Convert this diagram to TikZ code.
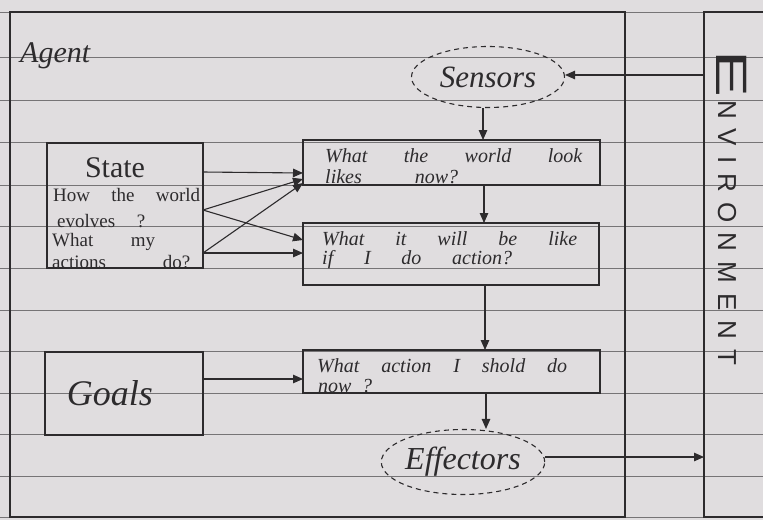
\documentclass[tikz,border=0pt]{standalone}
\usepackage{fontspec}
\usepackage{graphicx}
\setmainfont{Liberation Serif}
\newfontfamily\envfont{Liberation Sans}
\usetikzlibrary{arrows.meta,shapes.geometric}
\definecolor{paper}{RGB}{224,221,223}
\definecolor{ink}{RGB}{45,43,45}
\definecolor{rulecol}{RGB}{118,116,118}
\begin{document}
\begin{tikzpicture}[x=1pt,y=-1pt,
  inkline/.style={draw=ink, line width=1.3pt},
  boxnode/.style={draw=ink, line width=1.3pt, rectangle, inner sep=0pt, outer sep=0pt, anchor=north west},
  cloud/.style={draw=ink, line width=1.1pt, ellipse, dash pattern=on 5pt off 4pt, inner sep=0pt, text=ink},
  arr/.style={draw=ink, line width=1.1pt, -{Triangle[length=10pt,width=8.5pt]}},
  hand/.style={text=ink, inner sep=0pt, anchor=base west, font=\fontsize{20}{22}\selectfont\itshape},
  print/.style={text=ink, inner sep=0pt, anchor=base west, font=\fontsize{19}{21}\selectfont},
  ruled/.style={draw=rulecol, line width=0.7pt}
]
\fill[paper] (0,0) rectangle (763,520);
\useasboundingbox (0,0) rectangle (763,520);
% ruled paper
\foreach \yy in {12,57,100,142,185,226,268,310,351,393,434,476,517}
  \draw[ruled] (0,\yy) -- (763,\yy);

% agent and environment frames
\node[boxnode, minimum width=615pt, minimum height=505pt] (agent) at (10,12) {};
\node[inner sep=0pt, outer sep=0pt, minimum width=59pt, minimum height=505pt, anchor=north west] (env) at (704,12) {};
\draw[inkline] (env.north east) -- (env.north west) -- (env.south west) -- (env.south east);

\node[text=ink, inner sep=0pt, anchor=base west, font=\fontsize{30}{32}\selectfont\itshape] (agentlbl) at (20,62) {Agent};

% environment label
\node[rotate=-90, anchor=base west, text=ink, inner sep=0pt] (envE) at (716,50)
  {\envfont\fontsize{44}{44}\selectfont\scalebox{1.6}[1]{E}};
\node[rotate=-90, anchor=base west, text=ink, inner sep=0pt] (envRest) at (718,100)
  {\envfont\fontsize{26}{26}\selectfont\makebox[265pt][s]{N V I R O N M E N T}};

% sensors / effectors
\node[cloud, minimum width=153pt, minimum height=61pt, font=\fontsize{31}{33}\selectfont\itshape] (sensors) at (488,77) {Sensors};
\node[cloud, minimum width=157pt, minimum height=65pt, font=\fontsize{32}{34}\selectfont\itshape] (effectors) at (463,462) {Effectors};

% boxes
\node[boxnode, minimum width=297pt, minimum height=45pt] (look) at (303,140) {};
\node[boxnode, minimum width=296pt, minimum height=62pt] (will) at (303,223) {};
\node[boxnode, minimum width=297pt, minimum height=43pt] (act) at (303,350) {};
\node[boxnode, minimum width=156pt, minimum height=125pt] (state) at (47,143) {};
\node[boxnode, minimum width=158pt, minimum height=83pt] (goals) at (45,352) {};

% box texts
\node[hand] (look1) at (325,162) {\makebox[257pt][s]{What the world look}};
\node[hand] (look2) at (325,183) {\makebox[133pt][s]{likes now?}};
\node[hand] (will1) at (322,245) {\makebox[255pt][s]{What it will be like}};
\node[hand] (will2) at (322,264) {\makebox[190pt][s]{if I do action?}};
\node[hand] (act1) at (317,372) {\makebox[250pt][s]{What action I shold do}};
\node[hand] (act2) at (318,392) {\makebox[54pt][s]{now ?}};

\node[text=ink, inner sep=0pt, anchor=base, font=\fontsize{30}{32}\selectfont] (statelbl) at (115,177) {State};
\node[print] (st1) at (53,201) {\makebox[147pt][s]{How the world}};
\node[print] (st2) at (57,227) {\makebox[88pt][s]{evolves ?}};
\node[print] (st3) at (52,246) {\makebox[103pt][s]{What my}};
\node[print] (st4) at (52,268) {\makebox[138pt][s]{actions do?}};

\node[text=ink, inner sep=0pt, font=\fontsize{36}{38}\selectfont\itshape] (goalslbl) at (110,393) {Goals};

% connector end points
\coordinate (stS) at (state.east |- 0,172);
\coordinate (stE) at (state.east |- 0,210);
\coordinate (stA) at (state.east |- 0,253);
\coordinate (envIn) at (env.west |- 0,75);
\coordinate (envOut) at (env.west |- 0,457);

% connectors
\draw[arr] (envIn) -- (sensors.east |- envIn);
\draw[arr] (sensors.south -| 483,0) -- (look.north -| 483,0);
\draw[arr] (look.south -| 484,0) -- (will.north -| 484,0);
\draw[arr] (will.south -| 485,0) -- (act.north -| 485,0);
\draw[arr] (act.south -| 486,0) -- (effectors.north -| 486,0);
\draw[arr] (effectors.east |- envOut) -- (envOut);

\draw[arr] (stS) -- (look.west |- 0,173);
\draw[arr] (stE) -- (look.west |- 0,179);
\draw[arr] (stE) -- (will.west |- 0,240);
\draw[arr] (stA) -- (look.west |- 0,183);
\draw[arr] (stA) -- (will.west |- 0,253);
\draw[arr] (goals.east |- 0,379) -- (act.west |- 0,379);
\end{tikzpicture}
\end{document}
